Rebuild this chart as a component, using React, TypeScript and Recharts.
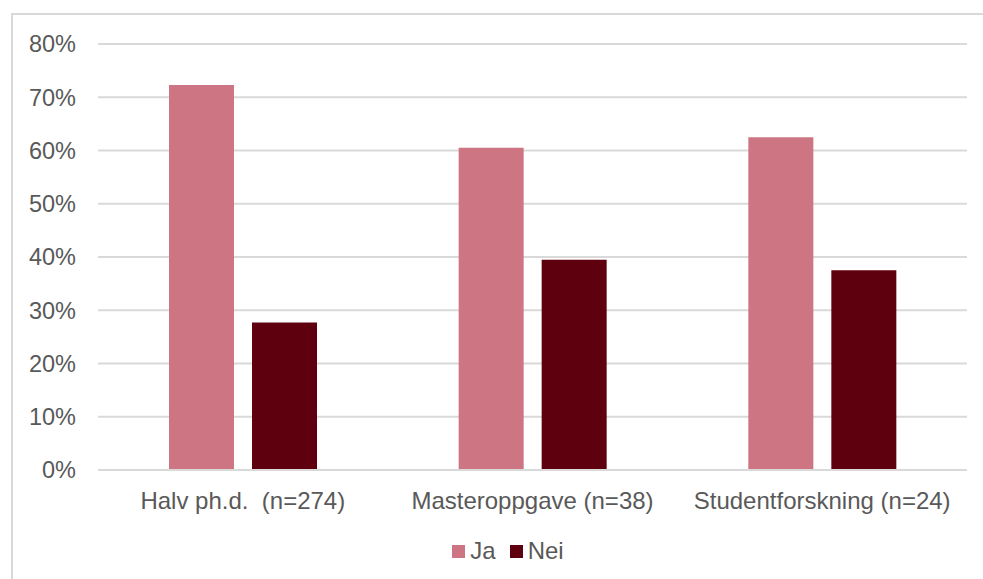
import * as React from "react"
import { BarChart, Bar, XAxis, YAxis, CartesianGrid, Legend } from "recharts"

const categories = ["Halv ph.d. \u00A0(n=274)", "Masteroppgave (n=38)", "Studentforskning (n=24)"]
const jaValues = [72.3, 60.5, 62.5]
const neiValues = [27.7, 39.5, 37.5]
const yTicks = [0, 10, 20, 30, 40, 50, 60, 70, 80]

const data = categories.map((name, i) => ({ name, Ja: jaValues[i], Nei: neiValues[i] }))

const textColor = "#595959"
const gridColor = "#D9D9D9"
const font = "'Liberation Sans', Arial, sans-serif"

function LegendContent(props: any) {
  const items = props.payload || []
  return (
    <div style={{ display: "flex", justifyContent: "center", alignItems: "center", fontFamily: font, fontSize: 24, color: textColor }}>
      {items.map((item: any, i: number) => (
        <span key={item.value} style={{ display: "inline-flex", alignItems: "center", marginLeft: i > 0 ? 14 : 0 }}>
          <span style={{ display: "inline-block", width: 13, height: 13, background: item.color, marginRight: 5 }} />
          {item.value}
        </span>
      ))}
    </div>
  )
}

export default function App() {
  return (
    <div style={{ position: "absolute", left: 0, top: 0, width: 983, height: 579, overflow: "hidden", background: "#fff" }}>
      <div
        style={{
          position: "absolute",
          left: 11,
          top: 13,
          width: 1000,
          height: 600,
          borderTop: `2px solid ${gridColor}`,
          borderLeft: `2px solid ${gridColor}`,
        }}
      />
      <div style={{ position: "absolute", left: 0, top: 0 }}>
        <BarChart
          width={983}
          height={579}
          data={data}
          margin={{ top: 44, right: 16, left: 0, bottom: 0 }}
          barSize={65}
          barGap={18}
        >
          <CartesianGrid vertical={false} stroke={gridColor} strokeWidth={2} />
          <XAxis
            dataKey="name"
            height={109}
            tickLine={false}
            tickSize={0}
            tickMargin={22}
            axisLine={{ stroke: gridColor, strokeWidth: 2 }}
            tick={{ fill: textColor, fontSize: 24, fontFamily: font }}
            interval={0}
          />
          <YAxis
            width={98}
            domain={[0, 80]}
            ticks={yTicks}
            tickFormatter={(v: number) => `${v}%`}
            axisLine={false}
            tickLine={false}
            tickSize={0}
            tickMargin={22}
            tick={{ fill: textColor, fontSize: 23.5, fontFamily: font }}
          />
          <Legend
            verticalAlign="middle"
            align="center"
            layout="horizontal"
            wrapperStyle={{ top: 537, left: 33, width: 950 }}
            content={<LegendContent />}
          />
          <Bar dataKey="Ja" fill="#CD7582" isAnimationActive={false} />
          <Bar dataKey="Nei" fill="#5F000E" isAnimationActive={false} />
        </BarChart>
      </div>
    </div>
  )
}
